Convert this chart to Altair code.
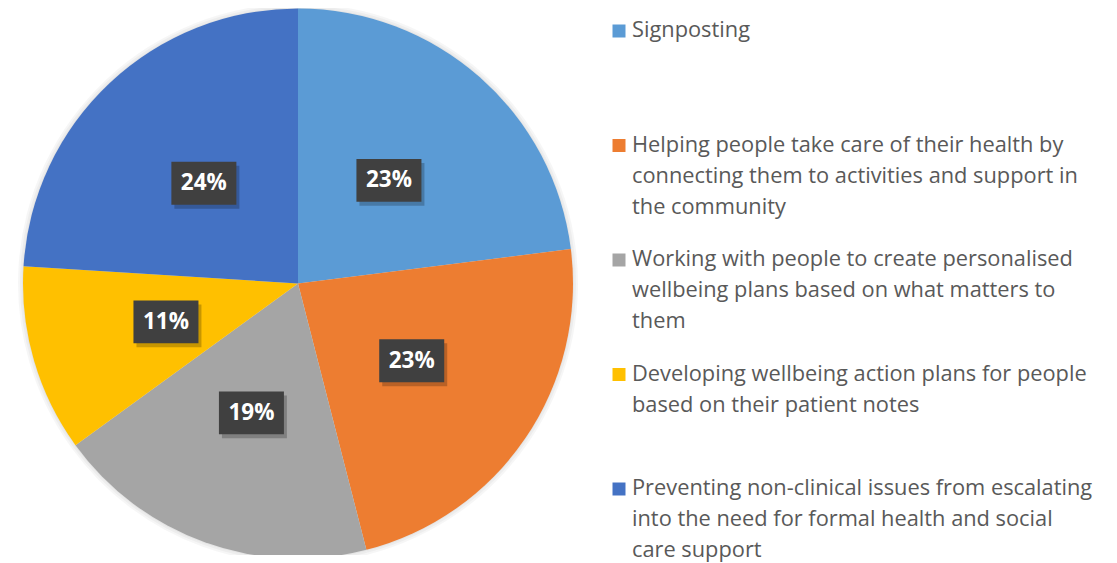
import altair as alt
import pandas as pd

categories = [
    "Signposting",
    "Helping people take care of their health by connecting them to activities and support in the community",
    "Working with people to create personalised wellbeing plans based on what matters to them",
    "Developing wellbeing action plans for people based on their patient notes",
    "Preventing non-clinical issues from escalating into the need for formal health and social care support",
]
legend_labels = [
    "Signposting",
    "Helping people take care of their health by\nconnecting them to activities and support in\nthe community",
    "Working with people to create personalised\nwellbeing plans based on what matters to\nthem",
    "Developing wellbeing action plans for people\nbased on their patient notes",
    "Preventing non-clinical issues from escalating\ninto the need for formal health and social\ncare support",
]
values = [23, 23, 19, 11, 24]
colors = ["#5B9BD5", "#ED7D31", "#A5A5A5", "#FFC000", "#4472C4"]

df = pd.DataFrame({
    "category": categories,
    "legend": legend_labels,
    "value": values,
    "idx": list(range(len(categories))),
})

W, H, R = 580, 547, 275
YOFF = 2
FONT = "Open Sans"

color = alt.Color("category:N", scale=alt.Scale(domain=categories, range=colors), legend=None)
theta = alt.Theta("value:Q", stack=True)
order = alt.Order("idx:Q", sort="ascending")

base = alt.Chart(df).properties(width=W, height=H)

shadows = [
    base.mark_arc(outerRadius=R + k, color="#000000", opacity=0.035, yOffset=YOFF, clip=True)
    .encode(theta=theta, order=order)
    for k in (5, 3, 1)
]

pie = base.mark_arc(outerRadius=R, yOffset=YOFF, clip=True).encode(theta=theta, color=color, order=order)

pos = (
    base.transform_joinaggregate(total="sum(value)")
    .transform_window(cum="sum(value)", sort=[alt.SortField("idx", order="ascending")], frame=[None, 0])
    .transform_calculate(
        mid="(datum.cum - datum.value / 2) / datum.total * 2 * PI",
        lx="sin(datum.mid) * 0.5",
        ly="cos(datum.mid) * 0.5",
        label="datum.value + '%'",
    )
)
xenc = alt.X("lx:Q", scale=alt.Scale(domain=[-W / 2 / R, W / 2 / R], nice=False, zero=False), axis=None)
yenc = alt.Y("ly:Q", scale=alt.Scale(domain=[-H / 2 / R, H / 2 / R], nice=False, zero=False), axis=None)

box_path = "M-1,-0.66L1,-0.66L1,0.66L-1,0.66Z"
box_shadow = pos.mark_point(shape=box_path, size=65 * 65, filled=True, color="#000000",
                            opacity=0.22, strokeWidth=0, xOffset=3, yOffset=YOFF + 4).encode(x=xenc, y=yenc)
box = pos.mark_point(shape=box_path, size=65 * 65, filled=True, color="#404040",
                     opacity=1, strokeWidth=0, yOffset=YOFF).encode(x=xenc, y=yenc)
labels = pos.mark_text(color="white", fontWeight="bold", fontSize=22.5, font=FONT,
                       yOffset=YOFF).encode(x=xenc, y=yenc, text="label:N")

pie_panel = alt.layer(*shadows, pie, box_shadow, box, labels)

leg_base = alt.Chart(df).properties(width=490, height=H)
leg_y = alt.Y("category:N", scale=alt.Scale(domain=categories, range=[23, 481], padding=0), axis=None)
squares = leg_base.mark_square(size=169, opacity=1, filled=True).encode(x=alt.value(11), y=leg_y, color=color)
texts = leg_base.mark_text(align="left", baseline="top", lineBreak="\n", lineHeight=31, dy=-11,
                          fontSize=21.8, font=FONT, color="#595959").encode(x=alt.value(24), y=leg_y, text="legend:N")
legend_panel = alt.layer(squares, texts)

chart = (
    alt.hconcat(pie_panel, legend_panel, spacing=20)
    .properties(padding=0)
    .configure_view(strokeWidth=0)
)

chart.save("out.html", embed_options={"renderer": "svg", "actions": False})
